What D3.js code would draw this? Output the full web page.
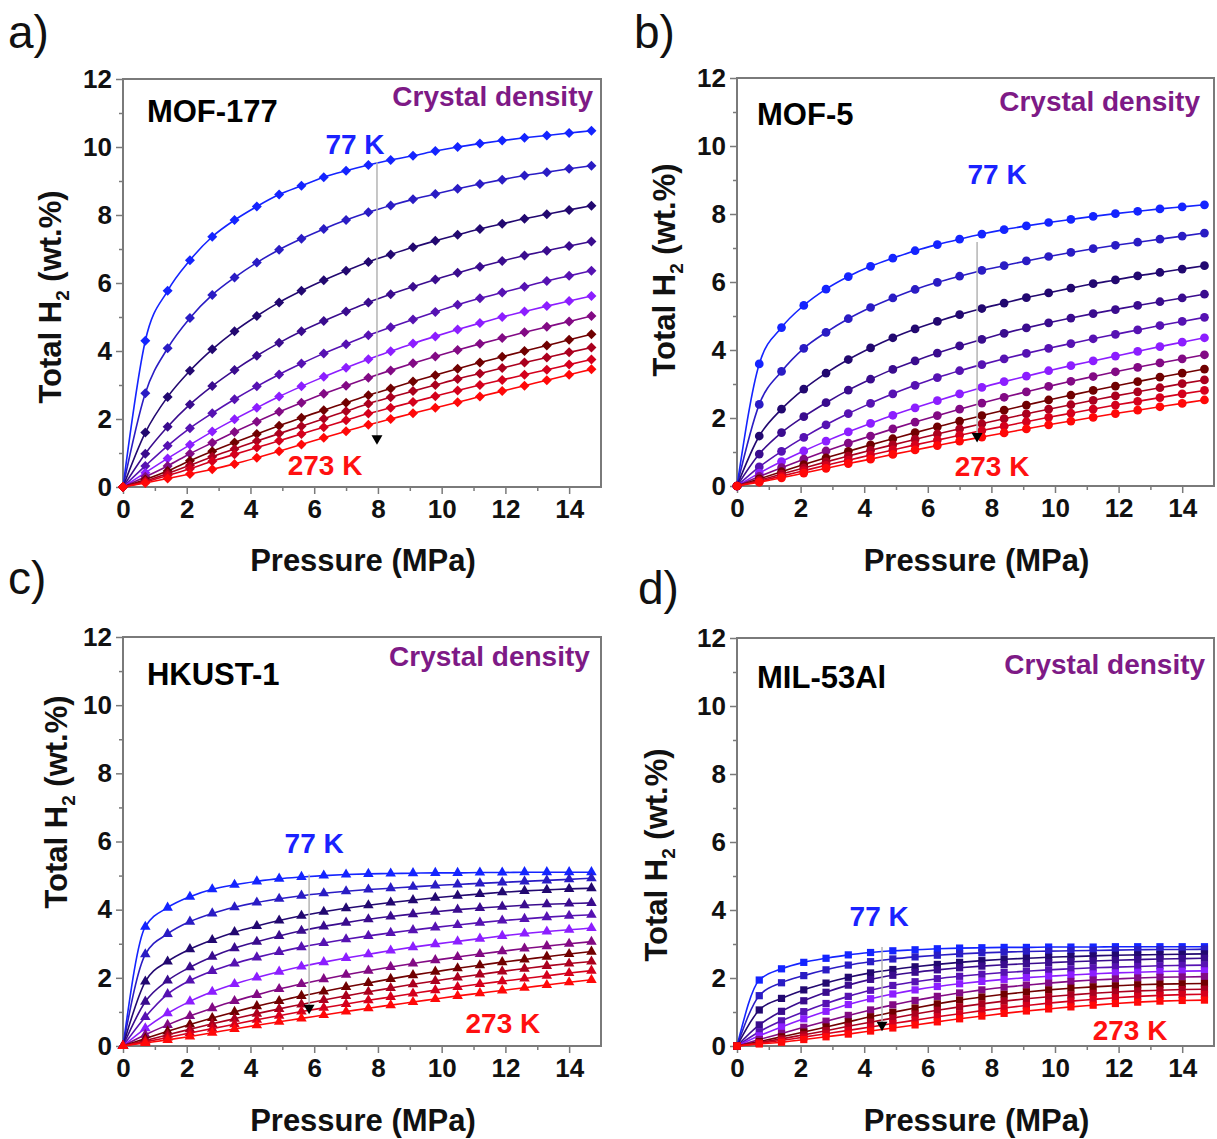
<!DOCTYPE html>
<html>
<head>
<meta charset="utf-8">
<script src="https://cdn.jsdelivr.net/npm/d3@7"></script>
<style>
  body { margin: 0; background: #fff; }
  svg text { font-family: "Liberation Sans", Arial, sans-serif; }
</style>
</head>
<body>
<svg id="chart" width="1217" height="1139"></svg>
<script>
// pressures (MPa) where each isotherm was sampled
const pressure = [0, 0.7, 1.4, 2.1, 2.8, 3.5, 4.2, 4.9, 5.6, 6.3, 7, 7.7, 8.4, 9.1, 9.8, 10.5, 11.2, 11.9, 12.6, 13.3, 14, 14.7];
const xTicks = [0, 2, 4, 6, 8, 10, 12, 14];
const xMinor = [1, 3, 5, 7, 9, 11, 13];
const yTicks = [0, 2, 4, 6, 8, 10, 12];
const yMinor = [1, 3, 5, 7, 9, 11];

// 77 K (top) ... 273 K (bottom)
const seriesColors = ['#1424ff', '#2a1cc4', '#220870', '#3a0c8e', '#5612b2', '#8c1eff', '#820a84', '#700000', '#aa001e', '#d4001c', '#ff0808'];

// Total H2 (wt.%) at each pressure, one row per temperature
const mof177 = [
  [0, 4.30, 5.77, 6.67, 7.36, 7.85, 8.25, 8.60, 8.86, 9.11, 9.30, 9.47, 9.62, 9.74, 9.88, 10.00, 10.10, 10.19, 10.27, 10.34, 10.41, 10.48],
  [0, 2.76, 4.08, 4.97, 5.65, 6.16, 6.60, 6.98, 7.30, 7.59, 7.85, 8.08, 8.28, 8.46, 8.62, 8.77, 8.91, 9.04, 9.16, 9.26, 9.36, 9.45],
  [0, 1.60, 2.65, 3.42, 4.05, 4.58, 5.03, 5.43, 5.77, 6.08, 6.36, 6.62, 6.84, 7.05, 7.24, 7.42, 7.59, 7.74, 7.89, 8.02, 8.15, 8.27],
  [0, 0.98, 1.77, 2.43, 2.97, 3.44, 3.86, 4.24, 4.58, 4.88, 5.16, 5.43, 5.67, 5.89, 6.10, 6.30, 6.48, 6.65, 6.81, 6.95, 7.09, 7.22],
  [0, 0.62, 1.21, 1.73, 2.17, 2.58, 2.96, 3.31, 3.63, 3.93, 4.20, 4.46, 4.70, 4.93, 5.15, 5.36, 5.55, 5.72, 5.89, 6.06, 6.21, 6.36],
  [0, 0.42, 0.84, 1.24, 1.63, 1.99, 2.33, 2.66, 2.96, 3.24, 3.51, 3.76, 3.99, 4.22, 4.43, 4.63, 4.82, 5.00, 5.16, 5.32, 5.47, 5.62],
  [0, 0.30, 0.62, 0.98, 1.30, 1.62, 1.92, 2.21, 2.48, 2.74, 2.98, 3.21, 3.43, 3.64, 3.84, 4.03, 4.21, 4.38, 4.55, 4.71, 4.87, 5.03],
  [0, 0.22, 0.47, 0.77, 1.05, 1.31, 1.56, 1.80, 2.04, 2.26, 2.48, 2.70, 2.90, 3.10, 3.29, 3.48, 3.66, 3.83, 4.00, 4.16, 4.33, 4.49],
  [0, 0.18, 0.40, 0.64, 0.89, 1.12, 1.35, 1.57, 1.79, 2.01, 2.23, 2.45, 2.64, 2.82, 3.00, 3.18, 3.34, 3.50, 3.66, 3.81, 3.96, 4.10],
  [0, 0.15, 0.34, 0.54, 0.76, 0.96, 1.16, 1.36, 1.56, 1.76, 1.96, 2.16, 2.33, 2.50, 2.67, 2.84, 3.00, 3.15, 3.30, 3.45, 3.60, 3.75],
  [0, 0.12, 0.25, 0.38, 0.52, 0.68, 0.86, 1.05, 1.25, 1.45, 1.64, 1.83, 2.00, 2.17, 2.33, 2.49, 2.66, 2.82, 2.98, 3.14, 3.30, 3.46]
];

const mof5 = [
  [0, 3.59, 4.66, 5.31, 5.79, 6.16, 6.46, 6.70, 6.92, 7.10, 7.26, 7.41, 7.54, 7.65, 7.75, 7.84, 7.93, 8.01, 8.08, 8.15, 8.21, 8.27],
  [0, 2.40, 3.37, 4.05, 4.52, 4.92, 5.25, 5.53, 5.78, 5.99, 6.17, 6.34, 6.48, 6.62, 6.75, 6.87, 6.98, 7.08, 7.17, 7.26, 7.35, 7.44],
  [0, 1.47, 2.26, 2.85, 3.32, 3.72, 4.06, 4.36, 4.62, 4.84, 5.04, 5.22, 5.38, 5.54, 5.68, 5.82, 5.95, 6.06, 6.18, 6.28, 6.38, 6.48],
  [0, 0.94, 1.57, 2.04, 2.45, 2.82, 3.14, 3.43, 3.68, 3.91, 4.12, 4.31, 4.49, 4.65, 4.80, 4.94, 5.07, 5.19, 5.31, 5.42, 5.53, 5.64],
  [0, 0.56, 1.02, 1.43, 1.80, 2.13, 2.43, 2.71, 2.96, 3.19, 3.39, 3.57, 3.74, 3.90, 4.05, 4.19, 4.33, 4.46, 4.59, 4.72, 4.84, 4.96],
  [0, 0.38, 0.72, 1.03, 1.32, 1.59, 1.84, 2.08, 2.30, 2.51, 2.71, 2.90, 3.07, 3.23, 3.39, 3.54, 3.68, 3.82, 3.96, 4.10, 4.23, 4.36],
  [0, 0.28, 0.54, 0.79, 1.03, 1.26, 1.47, 1.68, 1.88, 2.07, 2.26, 2.44, 2.61, 2.77, 2.93, 3.08, 3.22, 3.36, 3.49, 3.62, 3.74, 3.86],
  [0, 0.21, 0.42, 0.63, 0.83, 1.02, 1.21, 1.39, 1.57, 1.74, 1.91, 2.07, 2.23, 2.38, 2.53, 2.67, 2.81, 2.94, 3.07, 3.20, 3.32, 3.44],
  [0, 0.17, 0.35, 0.53, 0.71, 0.88, 1.05, 1.21, 1.37, 1.53, 1.68, 1.83, 1.98, 2.12, 2.26, 2.39, 2.52, 2.65, 2.77, 2.89, 3.01, 3.12],
  [0, 0.14, 0.29, 0.45, 0.61, 0.76, 0.91, 1.06, 1.21, 1.35, 1.49, 1.63, 1.76, 1.89, 2.02, 2.14, 2.26, 2.38, 2.49, 2.60, 2.71, 2.81],
  [0, 0.11, 0.24, 0.38, 0.52, 0.66, 0.79, 0.93, 1.06, 1.19, 1.32, 1.44, 1.56, 1.68, 1.80, 1.91, 2.02, 2.13, 2.23, 2.33, 2.43, 2.53]
];

const hkust1 = [
  [0, 3.50, 4.06, 4.38, 4.60, 4.73, 4.83, 4.91, 4.96, 5.00, 5.03, 5.05, 5.06, 5.07, 5.08, 5.08, 5.09, 5.09, 5.10, 5.10, 5.10, 5.10],
  [0, 2.69, 3.29, 3.65, 3.89, 4.07, 4.21, 4.32, 4.41, 4.48, 4.54, 4.59, 4.63, 4.67, 4.71, 4.74, 4.77, 4.80, 4.83, 4.86, 4.89, 4.92],
  [0, 1.89, 2.48, 2.84, 3.11, 3.34, 3.52, 3.68, 3.82, 3.94, 4.04, 4.13, 4.21, 4.28, 4.35, 4.41, 4.46, 4.51, 4.55, 4.58, 4.61, 4.63],
  [0, 1.30, 1.92, 2.31, 2.62, 2.87, 3.06, 3.23, 3.38, 3.51, 3.62, 3.72, 3.80, 3.87, 3.94, 4.00, 4.05, 4.09, 4.13, 4.16, 4.18, 4.20],
  [0, 0.85, 1.52, 1.92, 2.20, 2.42, 2.60, 2.76, 2.90, 3.02, 3.13, 3.23, 3.32, 3.40, 3.48, 3.55, 3.62, 3.68, 3.73, 3.78, 3.82, 3.85],
  [0, 0.52, 0.96, 1.31, 1.59, 1.82, 2.01, 2.18, 2.33, 2.46, 2.58, 2.69, 2.80, 2.90, 2.99, 3.07, 3.15, 3.23, 3.30, 3.36, 3.41, 3.46],
  [0, 0.33, 0.62, 0.88, 1.11, 1.32, 1.50, 1.67, 1.82, 1.96, 2.09, 2.21, 2.32, 2.42, 2.52, 2.61, 2.70, 2.78, 2.86, 2.93, 3.00, 3.06],
  [0, 0.22, 0.43, 0.63, 0.82, 1.00, 1.17, 1.32, 1.47, 1.60, 1.73, 1.85, 1.97, 2.08, 2.18, 2.28, 2.37, 2.46, 2.54, 2.62, 2.70, 2.77],
  [0, 0.16, 0.33, 0.49, 0.65, 0.80, 0.95, 1.09, 1.22, 1.35, 1.47, 1.59, 1.70, 1.81, 1.91, 2.01, 2.10, 2.19, 2.27, 2.35, 2.42, 2.48],
  [0, 0.12, 0.25, 0.38, 0.51, 0.64, 0.77, 0.89, 1.01, 1.12, 1.23, 1.34, 1.44, 1.54, 1.64, 1.73, 1.82, 1.90, 1.98, 2.06, 2.14, 2.21],
  [0, 0.09, 0.18, 0.28, 0.39, 0.50, 0.61, 0.71, 0.81, 0.91, 1.01, 1.11, 1.20, 1.29, 1.38, 1.47, 1.55, 1.63, 1.71, 1.79, 1.87, 1.94]
];

const mil53al = [
  [0, 1.94, 2.27, 2.46, 2.58, 2.68, 2.75, 2.80, 2.83, 2.86, 2.88, 2.89, 2.90, 2.90, 2.91, 2.91, 2.91, 2.92, 2.92, 2.92, 2.92, 2.92],
  [0, 1.48, 1.86, 2.07, 2.24, 2.38, 2.48, 2.56, 2.62, 2.67, 2.71, 2.74, 2.76, 2.78, 2.79, 2.80, 2.81, 2.82, 2.83, 2.84, 2.84, 2.85],
  [0, 1.06, 1.40, 1.65, 1.85, 2.02, 2.15, 2.25, 2.33, 2.40, 2.46, 2.51, 2.55, 2.58, 2.61, 2.63, 2.65, 2.67, 2.68, 2.69, 2.70, 2.71],
  [0, 0.62, 1.02, 1.33, 1.58, 1.79, 1.96, 2.08, 2.17, 2.24, 2.30, 2.35, 2.39, 2.42, 2.45, 2.48, 2.50, 2.52, 2.54, 2.56, 2.57, 2.58],
  [0, 0.42, 0.74, 1.01, 1.25, 1.46, 1.64, 1.78, 1.89, 1.98, 2.05, 2.11, 2.16, 2.20, 2.24, 2.27, 2.30, 2.32, 2.34, 2.36, 2.37, 2.38],
  [0, 0.30, 0.56, 0.80, 1.02, 1.22, 1.39, 1.53, 1.65, 1.75, 1.83, 1.90, 1.96, 2.01, 2.05, 2.09, 2.12, 2.15, 2.17, 2.19, 2.20, 2.21],
  [0, 0.19, 0.37, 0.55, 0.73, 0.90, 1.06, 1.21, 1.34, 1.46, 1.56, 1.65, 1.73, 1.79, 1.85, 1.90, 1.94, 1.97, 2.00, 2.02, 2.03, 2.04],
  [0, 0.13, 0.27, 0.41, 0.56, 0.71, 0.86, 0.99, 1.12, 1.24, 1.35, 1.44, 1.52, 1.59, 1.65, 1.70, 1.74, 1.77, 1.80, 1.82, 1.83, 1.84],
  [0, 0.10, 0.21, 0.33, 0.45, 0.58, 0.70, 0.82, 0.94, 1.05, 1.15, 1.24, 1.32, 1.39, 1.45, 1.50, 1.55, 1.59, 1.62, 1.64, 1.66, 1.67],
  [0, 0.08, 0.16, 0.26, 0.36, 0.46, 0.56, 0.66, 0.76, 0.86, 0.95, 1.04, 1.12, 1.19, 1.26, 1.32, 1.37, 1.42, 1.46, 1.49, 1.51, 1.52],
  [0, 0.06, 0.11, 0.19, 0.27, 0.35, 0.44, 0.53, 0.62, 0.71, 0.80, 0.88, 0.96, 1.03, 1.09, 1.15, 1.20, 1.25, 1.29, 1.32, 1.34, 1.35]
];

// arrow from the 77 K curve down towards 273 K: [pressure, top, bottom]
const arrowA = [7.97, 9.55, 1.37];
const arrowB = [7.55, 7.18, 1.41];
const arrowC = [5.84, 5.03, 1.06];
const arrowD = [4.56, 2.91, 0.56];

const svg = d3.select('#chart');

const panels = [
  { tag: 'a)', tagX: 8, tagY: 48, name: 'MOF-177', data: mof177, arrow: arrowA, shape: 'diamond',
    left: 123, top: 79, width: 478, height: 408,
    nameAt: [0.75, 11.07], densAt: [14.75, 11.49], coldAt: [7.28, 10.1], warmAt: [6.34, 0.64],
    yTitle: [50, 297], xTitleY: 571 },
  { tag: 'b)', tagX: 634, tagY: 48, name: 'MOF-5', data: mof5, arrow: arrowB, shape: 'circle',
    left: 737, top: 78, width: 477, height: 408,
    nameAt: [0.63, 10.94], densAt: [14.56, 11.32], coldAt: [8.18, 9.18], warmAt: [8.02, 0.59],
    yTitle: [664, 270], xTitleY: 571 },
  { tag: 'c)', tagX: 8, tagY: 594, name: 'HKUST-1', data: hkust1, arrow: arrowC, shape: 'triangle',
    left: 123, top: 637, width: 478, height: 409,
    nameAt: [0.75, 10.91], densAt: [14.65, 11.44], coldAt: [6.0, 5.97], warmAt: [11.92, 0.68],
    yTitle: [56, 802], xTitleY: 1131 },
  { tag: 'd)', tagX: 638, tagY: 604, name: 'MIL-53Al', data: mil53al, arrow: arrowD, shape: 'square',
    left: 737, top: 638, width: 477, height: 408,
    nameAt: [0.63, 10.85], densAt: [14.72, 11.24], coldAt: [4.47, 3.82], warmAt: [12.36, 0.47],
    yTitle: [656, 855], xTitleY: 1131 }
];

const axisGrey = '#7a7a7a';

function markerPath(shape) {
  if (shape === 'diamond') return d3.symbol().type(d3.symbolSquare).size(50)();
  if (shape === 'circle') return d3.symbol().type(d3.symbolCircle).size(60)();
  if (shape === 'triangle') return d3.symbol().type(d3.symbolTriangle).size(48)();
  return d3.symbol().type(d3.symbolSquare).size(52)();
}

panels.forEach(p => {
  const x = d3.scaleLinear().domain([0, 15]).range([p.left, p.left + p.width]);
  const y = d3.scaleLinear().domain([0, 12]).range([p.top + p.height, p.top]);
  const g = svg.append('g');

  // panel letter
  svg.append('text').attr('x', p.tagX).attr('y', p.tagY)
    .attr('font-size', 46).attr('fill', '#111').text(p.tag);

  // minor ticks
  g.append('g').attr('transform', `translate(0,${p.top + p.height})`)
    .call(d3.axisBottom(x).tickValues(xMinor).tickSize(4).tickSizeOuter(0).tickFormat(''))
    .call(a => a.select('.domain').remove())
    .call(a => a.selectAll('line').attr('stroke', axisGrey).attr('stroke-width', 1.5));
  g.append('g').attr('transform', `translate(${p.left},0)`)
    .call(d3.axisLeft(y).tickValues(yMinor).tickSize(4).tickSizeOuter(0).tickFormat(''))
    .call(a => a.select('.domain').remove())
    .call(a => a.selectAll('line').attr('stroke', axisGrey).attr('stroke-width', 1.5));

  // major ticks + labels
  const xa = g.append('g').attr('transform', `translate(0,${p.top + p.height})`)
    .call(d3.axisBottom(x).tickValues(xTicks).tickSize(7).tickPadding(6).tickSizeOuter(0));
  const ya = g.append('g').attr('transform', `translate(${p.left},0)`)
    .call(d3.axisLeft(y).tickValues(yTicks).tickSize(7).tickPadding(4).tickSizeOuter(0));
  [xa, ya].forEach(a => {
    a.select('.domain').remove();
    a.selectAll('line').attr('stroke', axisGrey).attr('stroke-width', 1.5);
    a.selectAll('text').attr('font-size', 26).attr('font-weight', 'bold')
      .attr('font-family', '"Liberation Sans", Arial, sans-serif').attr('fill', '#111');
  });

  // frame
  g.append('rect').attr('x', p.left).attr('y', p.top).attr('width', p.width).attr('height', p.height)
    .attr('fill', 'none').attr('stroke', axisGrey).attr('stroke-width', 2);

  // axis titles
  svg.append('text').attr('x', p.left + p.width / 2 + 1).attr('y', p.xTitleY)
    .attr('text-anchor', 'middle').attr('font-size', 31).attr('font-weight', 'bold').attr('fill', '#111')
    .text('Pressure (MPa)');
  const yt = svg.append('text')
    .attr('transform', `translate(${p.yTitle[0] + 11},${p.yTitle[1]}) rotate(-90)`)
    .attr('text-anchor', 'middle').attr('font-size', 31).attr('font-weight', 'bold').attr('fill', '#111');
  yt.append('tspan').text('Total H');
  yt.append('tspan').attr('font-size', 19).attr('dy', 8).text('2');
  yt.append('tspan').attr('dy', -8).text(' (wt.%)');

  // isotherms
  const line = d3.line().x((d, i) => x(pressure[i])).y(d => y(d)).curve(d3.curveMonotoneX);
  const plot = g.append('g');
  p.data.forEach((row, k) => {
    plot.append('path').datum(row).attr('d', line)
      .attr('fill', 'none').attr('stroke', seriesColors[k]).attr('stroke-width', 1.6);
    plot.selectAll(null).data(row).enter().append('path')
      .attr('d', markerPath(p.shape))
      .attr('transform', (d, i) => `translate(${x(pressure[i])},${y(d)})` + (p.shape === 'diamond' ? ' rotate(45)' : ''))
      .attr('fill', seriesColors[k]);
  });

  // temperature arrow
  g.append('line').attr('x1', x(p.arrow[0])).attr('x2', x(p.arrow[0]))
    .attr('y1', y(p.arrow[1])).attr('y2', y(p.arrow[2]))
    .attr('stroke', '#b4b4b4').attr('stroke-width', 1.5);
  g.append('path').attr('d', d3.symbol().type(d3.symbolTriangle).size(52)())
    .attr('transform', `translate(${x(p.arrow[0])},${y(p.arrow[2]) - 2}) rotate(180)`)
    .attr('fill', '#000');

  // labels
  g.append('text').attr('x', x(p.nameAt[0])).attr('y', y(p.nameAt[1]) + 11)
    .attr('font-size', 31).attr('font-weight', 'bold').attr('fill', '#000').text(p.name);
  g.append('text').attr('x', x(p.densAt[0])).attr('y', y(p.densAt[1]) + 10)
    .attr('text-anchor', 'end').attr('font-size', 28).attr('font-weight', 'bold').attr('fill', '#7e1a86')
    .text('Crystal density');
  g.append('text').attr('x', x(p.coldAt[0])).attr('y', y(p.coldAt[1]) + 10)
    .attr('text-anchor', 'middle').attr('font-size', 28).attr('font-weight', 'bold').attr('fill', '#1a22ff')
    .text('77 K');
  g.append('text').attr('x', x(p.warmAt[0])).attr('y', y(p.warmAt[1]) + 10)
    .attr('text-anchor', 'middle').attr('font-size', 28).attr('font-weight', 'bold').attr('fill', '#ff1010')
    .text('273 K');
});
</script>
</body>
</html>
